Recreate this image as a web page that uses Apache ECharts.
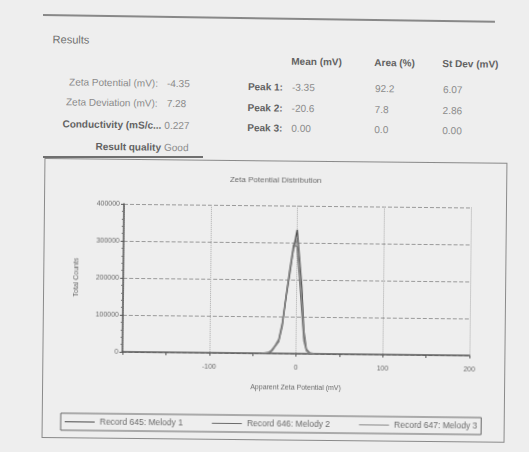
<!DOCTYPE html>
<html><head><meta charset="utf-8">
<script src="https://cdn.jsdelivr.net/npm/echarts@6/dist/echarts.min.js"></script>
<style>
html,body{margin:0;padding:0;width:529px;height:452px;background:#eeeeee;overflow:hidden;font-family:"Liberation Sans",Arial,sans-serif;}
#head{position:absolute;left:0;top:0;width:529px;height:160px;transform:rotate(0.85deg);transform-origin:43px 15px;}
.t{position:absolute;font-size:10px;color:#8a8a8a;white-space:nowrap;line-height:10px;}
.b{color:#626262;font-weight:bold;}
.r{text-align:right;}
#rule1{position:absolute;left:43px;top:14px;width:452px;height:2px;background:#888;}
#rule2{position:absolute;left:43px;top:156px;width:160px;height:2px;background:#6f6f6f;}
#chart{position:absolute;left:43px;top:158px;width:463px;height:280px;border:1px solid #8a8a8a;box-sizing:border-box;transform:rotate(0.6deg);transform-origin:0 50%;}
</style></head>
<body>
<div id="head">
<div id="rule1"></div>
<div class="t" style="left:53px;top:34px;font-size:11px;color:#707070">Results</div>
<div class="t b" style="left:292px;top:53px">Mean (mV)</div>
<div class="t b" style="left:375px;top:53px">Area (%)</div>
<div class="t b" style="left:443px;top:53px">St Dev (mV)</div>

<div class="t r" style="left:40px;width:119px;top:77px">Zeta Potential (mV):</div>
<div class="t" style="left:168px;top:77px">-4.35</div>
<div class="t r" style="left:40px;width:119px;top:97px">Zeta Deviation (mV):</div>
<div class="t" style="left:168px;top:97px">7.28</div>
<div class="t r b" style="left:40px;width:123px;top:119px">Conductivity (mS/c...</div>
<div class="t" style="left:166px;top:119px">0.227</div>
<div class="t r b" style="left:40px;width:123px;top:141px">Result quality</div>
<div class="t" style="left:166px;top:141px">Good</div>

<div class="t r b" style="left:230px;width:54px;top:79px">Peak 1:</div>
<div class="t" style="left:293px;top:79px">-3.35</div>
<div class="t" style="left:376px;top:79px">92.2</div>
<div class="t" style="left:444px;top:79px">6.07</div>
<div class="t r b" style="left:230px;width:54px;top:100px">Peak 2:</div>
<div class="t" style="left:293px;top:100px">-20.6</div>
<div class="t" style="left:376px;top:100px">7.8</div>
<div class="t" style="left:444px;top:100px">2.86</div>
<div class="t r b" style="left:230px;width:54px;top:120px">Peak 3:</div>
<div class="t" style="left:293px;top:120px">0.00</div>
<div class="t" style="left:376px;top:120px">0.0</div>
<div class="t" style="left:444px;top:120px">0.00</div>
</div>
<div id="rule2"></div>
<div id="chart"></div>
<script>
// Data
const potentials = [-40, -32, -28, -24, -20, -16, -12, -8, -4, 0, 3, 6, 9, 12, 16, 22];
const melody1 = [0, 1000, 6000, 19000, 32000, 75000, 150000, 215000, 285000, 335000, 260000, 180000, 60000, 12000, 2000, 0];
const melody2 = [0, 2000, 9000, 22000, 38000, 85000, 160000, 230000, 295000, 290000, 210000, 120000, 35000, 8000, 1000, 0];
const melody3 = [0, 1500, 8000, 20000, 35000, 80000, 155000, 225000, 280000, 310000, 240000, 150000, 45000, 10000, 1500, 0];
const seriesNames = ["Record 645: Melody 1", "Record 646: Melody 2", "Record 647: Melody 3"];
const chartTitle = "Zeta Potential Distribution";
const xName = "Apparent Zeta Potential (mV)";
const yName = "Total Counts";

const pair = (ys) => potentials.map((x, i) => [x, ys[i]]);
const colors = ["#4a4a4a", "#6a6a6a", "#8a8a8a"];
const chart = echarts.init(document.getElementById('chart'));
const txt = {fontFamily: '"Liberation Sans", Arial, sans-serif', color: '#6a6a6a', fontSize: 7};
chart.setOption({
  animation: false,
  backgroundColor: 'transparent',
  title: {text: chartTitle, left: 'center', top: 10, textStyle: Object.assign({}, txt, {fontWeight: 'normal', fontSize: 8})},
  grid: {left: 79, right: 35, top: 44, bottom: 86},
  legend: {
    data: seriesNames, left: 18, top: 254,
    borderColor: '#666', borderWidth: 1, padding: [4, 4],
    itemGap: 29, itemWidth: 30, itemHeight: 1, icon: 'rect',
    textStyle: Object.assign({}, txt, {fontSize: 8.5})
  },
  xAxis: {
    type: 'value', min: -200, max: 200, interval: 100,
    name: xName, nameLocation: 'middle', nameGap: 31, nameTextStyle: txt,
    axisLine: {lineStyle: {color: '#555', width: 1.5}},
    axisTick: {show: true, length: 3, lineStyle: {color: '#555'}},
    minorTick: {show: true, splitNumber: 2, length: 3, lineStyle: {color: '#555'}},
    axisLabel: Object.assign({}, txt, {margin: 11, showMinLabel: false}),
    splitLine: {show: true, lineStyle: {color: '#aaa', type: 'dotted'}}
  },
  yAxis: {
    type: 'value', min: 0, max: 400000, interval: 100000,
    name: yName, nameLocation: 'middle', nameGap: 43, nameTextStyle: txt,
    axisLine: {show: true, onZero: false, lineStyle: {color: '#555', width: 1.5}},
    axisTick: {show: true, length: 3, lineStyle: {color: '#555'}},
    minorTick: {show: true, splitNumber: 5, length: 2, lineStyle: {color: '#777'}},
    axisLabel: Object.assign({}, txt, {margin: 4, formatter: (v) => String(v)}),
    splitLine: {show: true, lineStyle: {color: '#999', type: 'dashed', width: 1}}
  },
  series: [melody1, melody2, melody3].map((d, i) => ({
    name: seriesNames[i], type: 'line', data: pair(d), showSymbol: false,
    lineStyle: {color: colors[i], width: 1.3}, itemStyle: {color: colors[i]}
  }))
});
</script>
</body></html>
